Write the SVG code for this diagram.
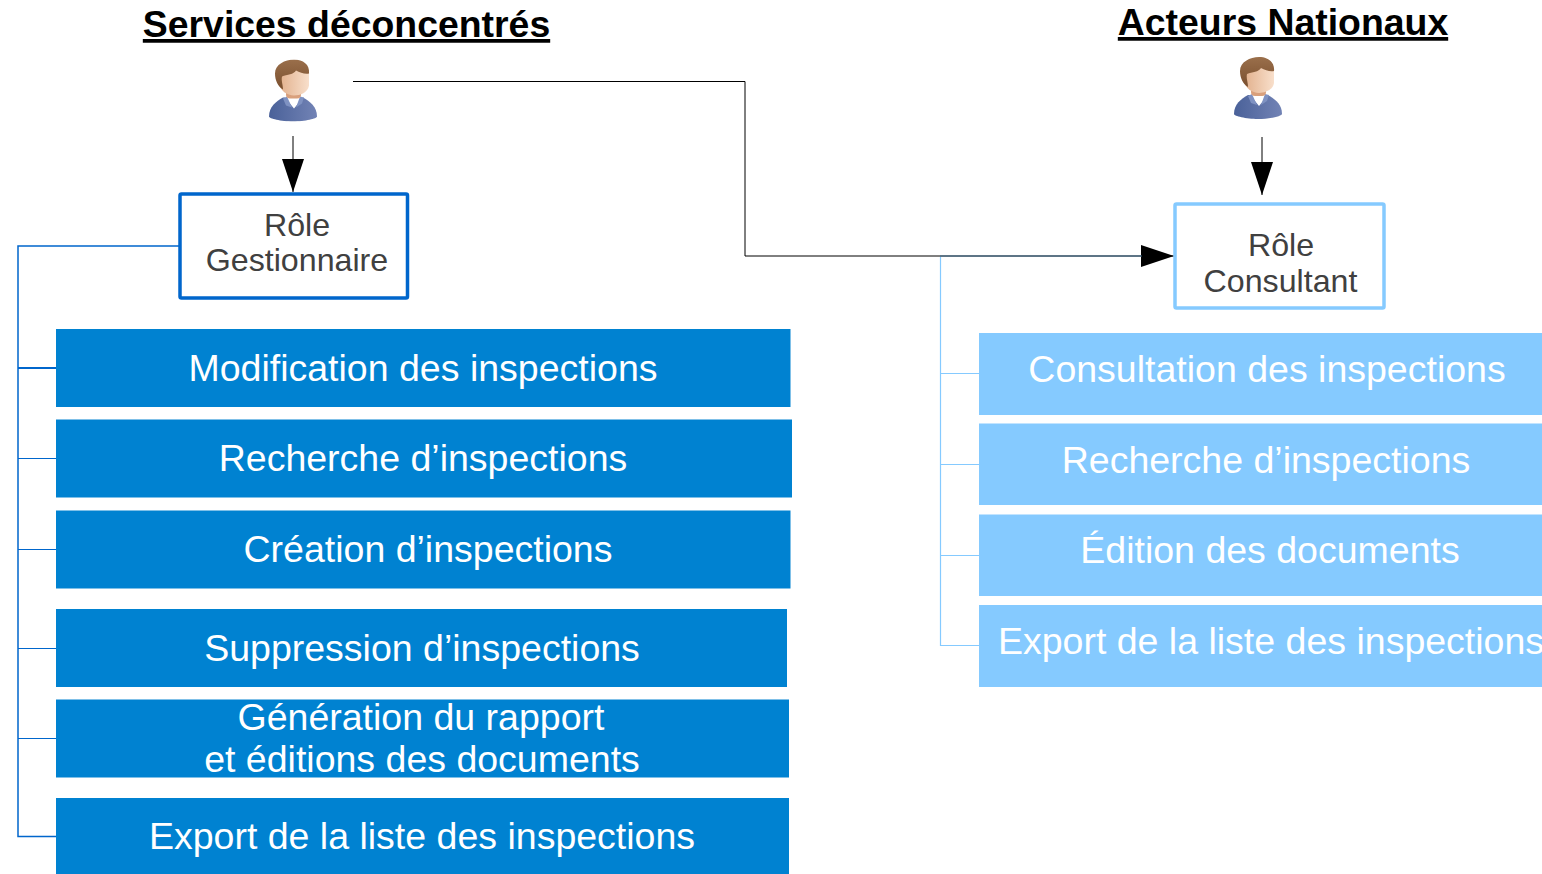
<svg xmlns="http://www.w3.org/2000/svg" width="1542" height="874" viewBox="0 0 1542 874">
<style>
text{font-family:"Liberation Sans",Arial,sans-serif;text-anchor:middle}
.title{font-size:37.4px;font-weight:bold;fill:#000;text-decoration:underline}
.role{font-size:32.2px;fill:#404040}
.dk{fill:#0082d1}
.lt{fill:#85caff}
.w{font-size:37.5px;fill:#fff}
.blk{fill:none;stroke:#000;stroke-width:1}
.b1{fill:none;stroke:#0066cc;stroke-width:1.5}
.b2{fill:none;stroke:#85caff;stroke-width:1.2}
</style>
<defs>
<linearGradient id="shirt" x1="0" x2="1" y1="0" y2="0"><stop offset="0" stop-color="#4a6199"/><stop offset="1" stop-color="#7283b5"/></linearGradient>
<linearGradient id="skin" x1="0" x2="1" y1="0" y2="0"><stop offset="0" stop-color="#e2b08c"/><stop offset="1" stop-color="#f8dfcb"/></linearGradient>
<linearGradient id="hair" x1="0" x2="0" y1="0" y2="1"><stop offset="0" stop-color="#9a6f4b"/><stop offset="1" stop-color="#7a4f2e"/></linearGradient>
<marker id="ah" markerUnits="userSpaceOnUse" markerWidth="34" markerHeight="24" refX="33" refY="12" orient="auto"><path d="M0,1 L33,12 L0,23 Z" fill="#000"/></marker>
<symbol id="person" width="48" height="62" viewBox="0 0 48 62">
<path d="M0,57 C0,47 7,42 14,38 L34,38 C41,42 48,47 48,57 C48,59 36,62 24,62 C12,62 0,59 0,57 Z" fill="url(#shirt)"/>
<path d="M16,38 L25,49 L34,38 L31,34 L17,34 Z" fill="#fff"/>
<path d="M14,39 L18,37 L23,48 L17,46 Z M35,38 L31,37 L27,48 L33,44 Z" fill="#7f92c2"/>
<rect x="17" y="27" width="15" height="12" rx="4" fill="#d9a07c"/>
<path d="M10,14 C12,6 36,6 40,14 L40,26 C39,33 31,36 25,36 C18,36 11,31 10,24 Z" fill="url(#skin)"/>
<path d="M6,14 C6,5 16,0 25,0 C34,0 41,5 40,14 C36,15 31,13 27,11 C25,15 18,15 13,17 C12,21 14,25 14,30 C9,27 6,21 6,14 Z" fill="url(#hair)"/>
</symbol>
</defs>
<g id="connectors">
<path class="blk" d="M353,81.500 H745 V256 H1174" marker-end="url(#ah)"/>
<path d="M940,256 H1142" fill="none" stroke="#3d6a8c" stroke-width="1.200"/>
<path class="blk" d="M293,136 V192" marker-end="url(#ah)"/>
<path class="blk" d="M1262,137 V195" marker-end="url(#ah)"/>
<path class="b1" d="M179,246 H18 V836.500 H56"/>
<path class="b1" d="M18,368 H56" style="stroke-width:2"/>
<path class="b1" d="M18,458.500 H56 M18,549.500 H56 M18,648.500 H56 M18,738.500 H56" style="stroke-width:1"/>
<path class="b2" d="M940.500,257 V645.500 H979 M940.500,373.500 H979 M940.500,464.500 H979 M940.500,555.500 H979"/>
</g>
<g id="title-left"><text class="title" x="346.500" y="37">Services déconcentrés</text></g>
<g id="title-right"><text class="title" x="1283" y="35">Acteurs Nationaux</text></g>
<g id="actor-left"><use href="#person" x="269" y="59.500"/></g>
<g id="actor-right"><use href="#person" x="1234" y="57"/></g>
<g id="role-gestionnaire"><rect x="180" y="194" width="227.500" height="104" rx="1.500" fill="#fff" stroke="#0066cc" stroke-width="3.500"/><text class="role" x="297" y="236">Rôle</text><text class="role" x="297" y="271">Gestionnaire</text></g>
<g id="role-consultant"><rect x="1175" y="204" width="209" height="104" rx="1.500" fill="#fff" stroke="#85caff" stroke-width="3.500"/><text class="role" x="1281" y="256">Rôle</text><text class="role" x="1280.500" y="292">Consultant</text></g>
<g id="g1"><rect class="dk" x="56" y="329" width="734.500" height="78"/><text class="w" x="423" y="381">Modification des inspections</text></g>
<g id="g2"><rect class="dk" x="56" y="419.500" width="736" height="78"/><text class="w" x="423" y="471">Recherche d’inspections</text></g>
<g id="g3"><rect class="dk" x="56" y="510.500" width="734.500" height="78"/><text class="w" x="428" y="562">Création d’inspections</text></g>
<g id="g4"><rect class="dk" x="56" y="609" width="731" height="78"/><text class="w" x="422" y="661">Suppression d’inspections</text></g>
<g id="g5"><rect class="dk" x="56" y="699.500" width="733" height="78"/><text class="w" x="421" y="730">Génération du rapport</text><text class="w" x="422" y="772">et éditions des documents</text></g>
<g id="g6"><rect class="dk" x="56" y="798" width="733" height="76"/><text class="w" x="422" y="849">Export de la liste des inspections</text></g>
<g id="c1"><rect class="lt" x="979" y="333" width="563" height="82"/><text class="w" x="1267" y="382">Consultation des inspections</text></g>
<g id="c2"><rect class="lt" x="979" y="423.500" width="563" height="81.500"/><text class="w" x="1266" y="473">Recherche d’inspections</text></g>
<g id="c3"><rect class="lt" x="979" y="514.500" width="563" height="81.500"/><text class="w" x="1270" y="563">Édition des documents</text></g>
<g id="c4"><rect class="lt" x="979" y="605" width="563" height="82"/><text class="w" x="1271" y="654">Export de la liste des inspections</text></g>
</svg>
